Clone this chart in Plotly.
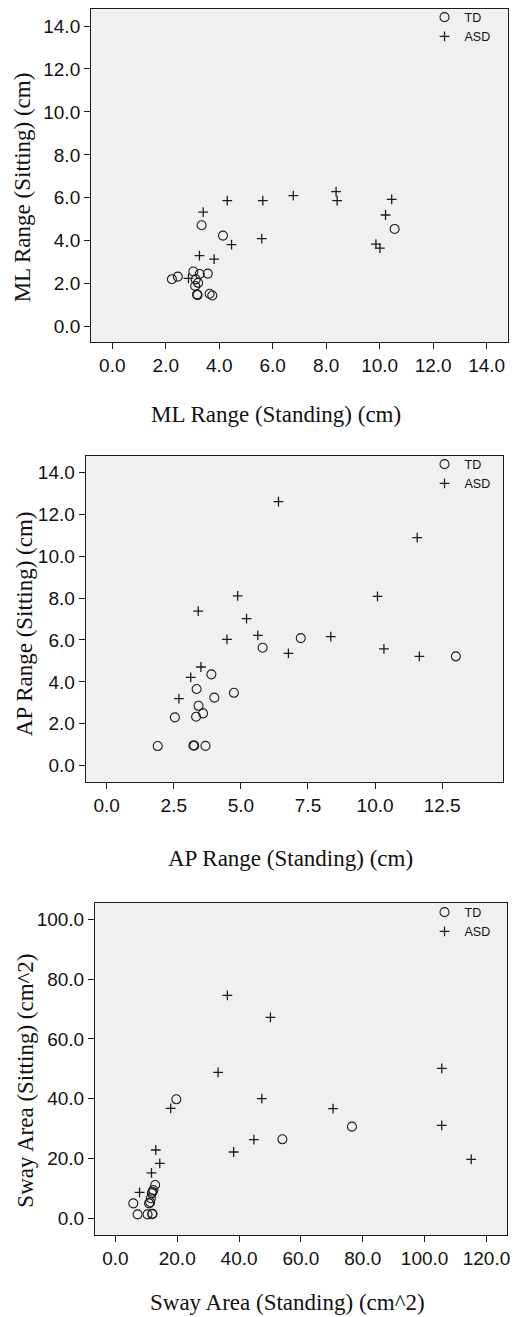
import plotly.graph_objects as go

W, H = 517, 1317

# ---------------- data ----------------
# Panel 1: ML range
ml_td_stand = [2.23, 2.45, 3.03, 3.27, 3.57, 3.12, 3.21, 3.10, 3.17, 3.19, 3.64, 3.74, 3.34, 4.14, 10.56]
ml_td_sit   = [2.21, 2.33, 2.57, 2.45, 2.47, 2.20, 2.04, 1.89, 1.50, 1.47, 1.53, 1.45, 4.72, 4.24, 4.55]
ml_asd_stand = [3.40, 4.30, 5.63, 6.77, 8.37, 8.41, 10.45, 10.22, 9.86, 10.01, 4.46, 5.59, 3.26, 3.81, 2.85]
ml_asd_sit   = [5.33, 5.87, 5.87, 6.10, 6.29, 5.87, 5.93, 5.20, 3.84, 3.66, 3.82, 4.10, 3.31, 3.14, 2.25]

# Panel 2: AP range
ap_td_stand = [1.90, 3.23, 3.26, 3.68, 2.54, 3.33, 3.59, 3.42, 3.35, 4.01, 4.74, 3.90, 5.81, 7.23, 13.01]
ap_td_sit   = [0.94, 0.97, 0.96, 0.95, 2.31, 2.34, 2.50, 2.86, 3.66, 3.25, 3.48, 4.36, 5.63, 6.09, 5.22]
ap_asd_stand = [2.69, 3.13, 3.51, 3.41, 4.48, 4.88, 5.21, 5.63, 6.40, 6.77, 8.35, 10.09, 10.33, 11.57, 11.65]
ap_asd_sit   = [3.20, 4.22, 4.71, 7.38, 6.03, 8.10, 7.02, 6.22, 12.60, 5.36, 6.16, 8.08, 5.58, 10.88, 5.22]

# Panel 3: sway area
sa_td_stand = [5.79, 7.18, 10.40, 12.00, 11.90, 11.25, 10.90, 11.47, 11.80, 12.00, 12.30, 12.86, 19.71, 54.00, 76.50]
sa_td_sit   = [5.00, 1.30, 1.30, 1.50, 1.40, 5.35, 5.00, 6.69, 8.36, 8.90, 9.47, 11.14, 39.80, 26.42, 30.66]
sa_asd_stand = [7.82, 11.68, 13.07, 14.36, 17.89, 33.22, 36.22, 38.25, 44.79, 47.36, 50.14, 70.39, 105.54, 105.54, 115.07]
sa_asd_sit   = [8.70, 15.16, 22.85, 18.39, 36.79, 48.83, 74.58, 22.18, 26.31, 40.02, 67.22, 36.68, 50.17, 31.10, 19.73]

groups = ["TD", "ASD"]

x_titles = ["ML Range (Standing) (cm)", "AP Range (Standing) (cm)", "Sway Area (Standing) (cm^2)"]
y_titles = ["ML Range (Sitting) (cm)", "AP Range (Sitting) (cm)", "Sway Area (Sitting) (cm^2)"]

x_ranges = [[-0.79, 14.79], [-0.78, 14.78], [-6.54, 126.75]]
y_ranges = [[-0.73, 14.78], [-0.76, 14.79], [-5.69, 105.57]]
x_dticks = [2, 2.5, 20]
y_dticks = [2, 2, 20]

# ---------------- layout geometry (pixels) ----------------
plot_boxes = [  # left, right, top, bottom
    (91.7, 510.7, 9.3, 342.3),
    (86.3, 506.3, 455.7, 781.7),
    (95.7, 510.3, 902.7, 1235.3),
]
x_title_pos = [(278, 414), (292.5, 858), (289, 1302)]
y_title_pos = [(23, 187.5), (24, 623.3), (26, 1080.8)]
legend_pos = [(427, 2.5), (427, 449.5), (427, 897.5)]

def px(x):
    return x / W

def py(y):
    return 1 - y / H

TICK_FONT = dict(family="Liberation Sans, Arial, sans-serif", size=19, color="#111111")
TITLE_FONT = dict(family="Liberation Serif, Times New Roman, serif", size=23, color="#111111")
LEG_FONT = dict(family="Liberation Sans, Arial, sans-serif", size=12.5, color="#111111")

fig = go.Figure()

data = [
    ((ml_td_stand, ml_td_sit), (ml_asd_stand, ml_asd_sit)),
    ((ap_td_stand, ap_td_sit), (ap_asd_stand, ap_asd_sit)),
    ((sa_td_stand, sa_td_sit), (sa_asd_stand, sa_asd_sit)),
]

layout = dict(
    width=W, height=H, autosize=False,
    margin=dict(l=0, r=0, t=0, b=0),
    paper_bgcolor="white",
    plot_bgcolor="#f0f0f0",
    showlegend=True,
    annotations=[],
)

for i in range(3):
    sfx = "" if i == 0 else str(i + 1)
    xa, ya = "x" + sfx, "y" + sfx
    leg = "legend" + sfx
    (tdx, tdy), (asx, asy) = data[i]
    fig.add_trace(go.Scatter(
        x=tdx, y=tdy, mode="markers", name=groups[0], xaxis=xa, yaxis=ya, legend=leg,
        marker=dict(symbol="circle-open", size=9, color="#1a1a1a", line=dict(width=1.1, color="#1a1a1a")),
    ))
    fig.add_trace(go.Scatter(
        x=asx, y=asy, mode="markers", name=groups[1], xaxis=xa, yaxis=ya, legend=leg,
        marker=dict(symbol="cross-thin-open", size=7, color="#1a1a1a", line=dict(width=1.3, color="#1a1a1a")),
    ))
    l, r, t, b = plot_boxes[i]
    common = dict(
        showline=True, mirror=True, linecolor="#1a1a1a", linewidth=1.3,
        ticks="outside", ticklen=6, tickwidth=1, tickcolor="#1a1a1a",
        showgrid=False, zeroline=False, tickfont=TICK_FONT, tickformat=".1f",
        tick0=0,
    )
    layout["xaxis" + sfx] = dict(common, domain=[px(l), px(r)], range=x_ranges[i],
                                 dtick=x_dticks[i], anchor=ya)
    layout["yaxis" + sfx] = dict(common, domain=[py(b), py(t)], range=y_ranges[i],
                                 dtick=y_dticks[i], anchor=xa)
    lx, ly = legend_pos[i]
    layout[leg] = dict(x=px(lx), y=py(ly), xanchor="left", yanchor="top",
                       bgcolor="rgba(0,0,0,0)", font=LEG_FONT, tracegroupgap=0,
                       itemwidth=30)
    layout["annotations"].append(dict(
        text=x_titles[i], x=px(x_title_pos[i][0]), y=py(x_title_pos[i][1]),
        xref="paper", yref="paper", xanchor="center", yanchor="middle",
        showarrow=False, font=TITLE_FONT))
    layout["annotations"].append(dict(
        text=y_titles[i], x=px(y_title_pos[i][0]), y=py(y_title_pos[i][1]),
        xref="paper", yref="paper", xanchor="center", yanchor="middle",
        showarrow=False, font=TITLE_FONT, textangle=-90))

fig.update_layout(**layout)
fig.write_html(
    "out.html",
    config={"displayModeBar": False},
    post_script="document.body.style.margin='0';document.body.style.padding='0';",
)
